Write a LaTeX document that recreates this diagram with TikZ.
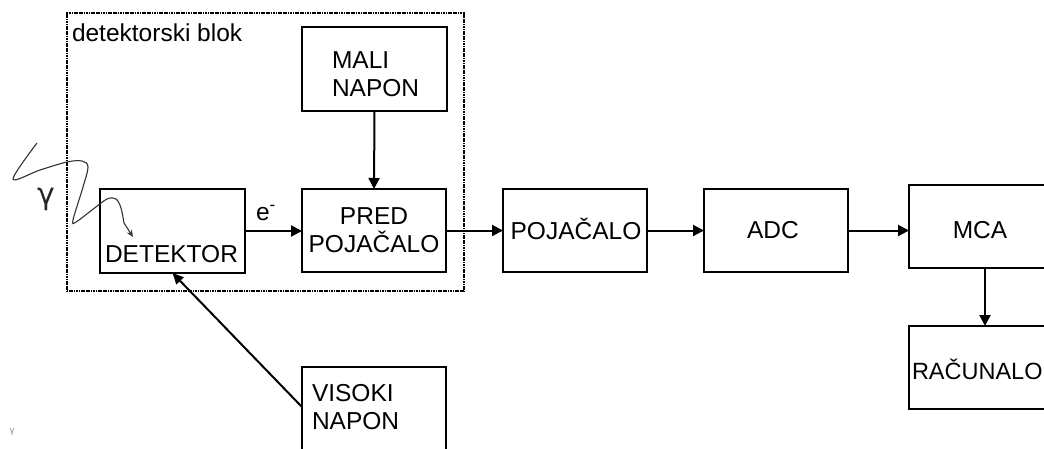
\documentclass[tikz,border=0pt]{standalone}
\usepackage{fontspec}
\setmainfont{Liberation Sans}
\newfontfamily\dejavu{DejaVu Sans}
\usetikzlibrary{arrows.meta,calc}
\begin{document}
\begin{tikzpicture}[x=1pt,y=-1pt,
  box/.style={draw, line width=2pt, inner sep=0pt, outer sep=0pt, rectangle},
  lbl/.style={inner sep=0pt, outer sep=0pt, font=\fontsize{24.5}{28}\selectfont},
  conn/.style={line width=2pt, -{Triangle[length=11pt,width=11pt]}},
  blokstyle/.style={draw, line width=1.8pt, dash pattern=on 1.2pt off 0.5pt, inner sep=0pt, rectangle}
]
\path[use as bounding box] (0,0) rectangle (1044,448);
\clip (0,0) rectangle (1044,448);
\fill[white] (0,0) rectangle (1044,448);

% dotted detector block
\node[blokstyle, minimum width=397pt, minimum height=278pt] (blok) at (265.5,152) {};
\node[lbl, anchor=base west] (bloklbl) at (72,41) {detektorski blok};

% boxes
\node[box, minimum width=145pt, minimum height=84pt] (det) at (172.5,231) {};
\node[box, minimum width=145pt, minimum height=84pt] (mali) at (374.5,69) {};
\node[box, minimum width=144pt, minimum height=83pt] (pred) at (374,230.5) {};
\node[box, minimum width=144pt, minimum height=83pt] (poj) at (575,230.5) {};
\node[box, minimum width=144pt, minimum height=83pt] (adc) at (776,230.5) {};
\node[box, minimum width=152pt, minimum height=83pt] (mca) at (985,226.5) {};
\node[box, minimum width=152pt, minimum height=83pt] (rac) at (985,367.5) {};
\node[box, minimum width=144pt, minimum height=94pt] (vis) at (374,414) {};

% texts
\node[lbl, anchor=base] (dettxt) at (171.5,262) {DETEKTOR};
\node[lbl, anchor=north west, align=left] (malitxt) at (332,52) {MALI\\NAPON};
\node[lbl, anchor=north, align=center] (predtxt) at (374,208) {PRED\\POJAČALO};
\node[lbl, anchor=base] (pojtxt) at (576,239) {POJAČALO};
\node[lbl, anchor=base] (adctxt) at (773,238) {ADC};
\node[lbl, anchor=base] (mcatxt) at (980,238) {MCA};
\node[lbl, anchor=base west, font=\fontsize{23.5}{28}\selectfont] (ractxt) at (912,379) {RAČUNALO};
\node[lbl, anchor=north west, align=left] (vistxt) at (312,384) {VISOKI\\NAPON};
\node[lbl, anchor=base west] (etxt) at (256,220) {e\textsuperscript{-}};
\node[inner sep=0pt, font=\dejavu\fontsize{30}{30}\selectfont, text=black!85] (gam) at (46,199) {γ};
\node[inner sep=0pt, font=\dejavu\fontsize{9}{9}\selectfont, text=black!45] (gamsmall) at (12,432) {γ};

% connectors
\draw[conn] (det.east) -- (det.east -| pred.west);
\draw[conn] (mali.south) -- (pred.north);
\draw[conn] (pred.east) -- (pred.east -| poj.west);
\draw[conn] (poj.east) -- (poj.east -| adc.west);
\draw[conn] (adc.east) -- (adc.east -| mca.west);
\draw[conn] (mca.south) -- (rac.north);
\draw[line width=2pt, -{Triangle[length=11pt,width=10pt]}] ([yshift=-40pt]vis.north west) -- (det.south);

% gamma wave
\coordinate (wend) at (133,237);
\draw[line width=1.1pt, black!80, -{Stealth[length=7pt,width=6pt]}]
  plot[smooth, tension=0.55] coordinates {(37,143) (13,179) (40,170) (67,162) (82,161) (88,167) (83,187) (73,220) (76,222) (92,210) (107,199) (116,199) (121,208) (124,223)} -- (wend);
\end{tikzpicture}
\end{document}
